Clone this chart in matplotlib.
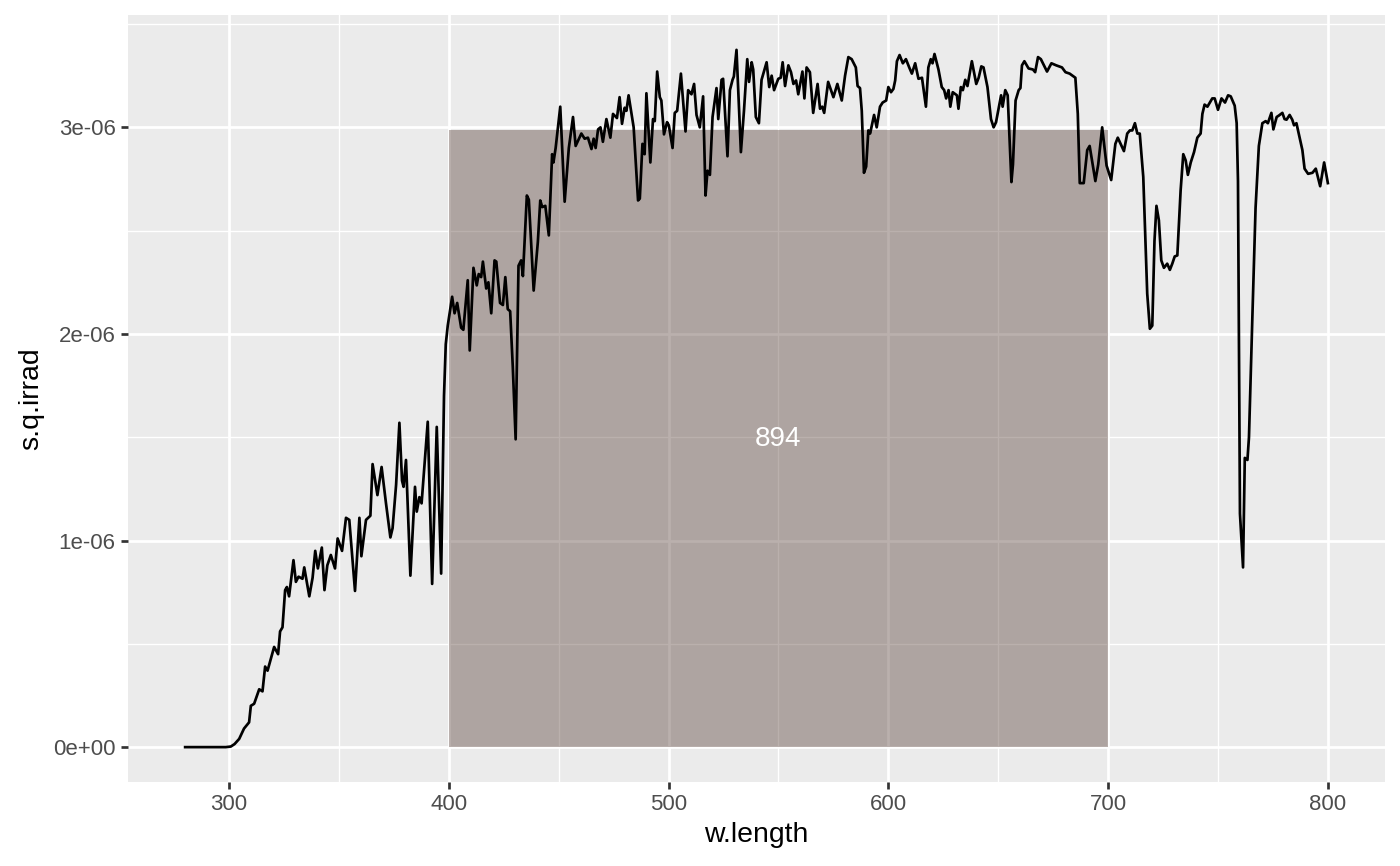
import matplotlib
matplotlib.use("Agg")
import matplotlib.pyplot as plt
from matplotlib.ticker import FixedLocator, FixedFormatter
import numpy as np

# ---- data (irradiance in units of 1e-6) ----
w_length = [
    280, 285, 290, 295, 298.5, 300.8, 302.5, 304.6, 306.8, 309.1, 309.9, 311.4, 313.7, 315.2,
    316.4, 317.5, 320.5, 322.3, 323.2, 324.3, 325.5, 326.3, 327.3, 329.3, 330.4, 331.6, 333.4,
    334.2, 336.5, 338.0, 339.2, 340.4, 342.2, 343.4, 344.7, 346.3, 348.2, 349.4, 351.4, 353.2,
    354.7, 357.3, 359.3, 360.2, 362.3, 364.3, 365.3, 367.5, 369.4, 371.4, 373.4, 374.4, 376.0,
    377.5, 378.7, 379.4, 380.5, 382.5, 384.6, 385.4, 386.6, 387.6, 390.4, 392.4, 394.5, 396.5,
    397.8, 398.6, 399.5, 401.5, 402.6, 403.8, 405.6, 406.6, 408.6, 409.5, 411.2, 412.7, 413.6,
    414.7, 415.5, 417.0, 418.0, 419.3, 420.8, 421.6, 423.3, 424.6, 425.7, 426.8, 427.9, 429.1,
    430.4, 431.7, 432.9, 433.7, 435.5, 436.4, 438.6, 440.5, 441.6, 442.5, 443.9, 445.5, 447.0,
    447.6, 448.6, 450.7, 452.7, 454.6, 456.5, 457.7, 460.3, 461.8, 463.3, 464.9, 465.9, 466.8,
    467.9, 469.0, 470.1, 471.7, 473.5, 474.7, 476.5, 477.7, 478.8, 480.0, 480.8, 481.8, 484.1,
    486.1, 486.9, 488.1, 489.1, 489.9, 491.7, 492.9, 493.7, 494.8, 496.0, 496.7, 497.9, 499.3,
    500.1, 501.8, 502.8, 503.9, 505.6, 507.7, 508.9, 510.4, 511.6, 512.7, 514.2, 515.7, 516.8,
    517.7, 518.8, 520.0, 521.8, 522.6, 524.1, 524.8, 526.8, 527.9, 529.1, 529.7, 530.9, 532.9,
    534.3, 535.8, 536.6, 537.8, 538.5, 539.7, 541.1, 542.3, 544.6, 545.8, 546.9, 548.0, 549.9,
    551.0, 551.9, 553.0, 554.5, 555.7, 556.8, 558.0, 559.0, 560.9, 561.8, 562.8, 564.3, 565.8,
    567.8, 568.9, 569.9, 570.8, 572.6, 575.0, 576.8, 578.8, 580.3, 581.8, 583.3, 585.2, 586.0,
    587.1, 587.9, 588.9, 589.9, 590.9, 591.7, 593.5, 594.7, 596.2, 597.4, 599.0, 600.0, 601.2,
    602.3, 603.1, 603.9, 605.1, 606.6, 608.0, 609.5, 610.7, 612.2, 613.7, 615.3, 617.1, 618.2,
    619.3, 620.1, 621.0, 622.8, 624.3, 625.4, 626.3, 627.4, 628.2, 629.3, 631.2, 631.9, 633.0,
    633.9, 635.0, 636.0, 638.0, 640.0, 641.1, 642.3, 643.3, 645.1, 646.7, 647.9, 649.0, 651.3,
    652.0, 653.2, 654.3, 656.0, 656.7, 657.9, 659.3, 660.1, 660.8, 661.9, 663.8, 665.8, 666.8,
    668.1, 669.4, 672.2, 674.2, 676.4, 679.0, 680.6, 682.5, 685.1, 686.2, 687.1, 688.9, 690.5,
    691.6, 694.2, 695.5, 697.3, 699.3, 701.4, 703.3, 704.4, 707.2, 708.7, 709.9, 711.0, 712.2,
    713.3, 714.4, 716.0, 717.8, 719.0, 720.1, 721.1, 722.0, 723.1, 724.2, 725.4, 726.9, 728.1,
    729.2, 730.3, 731.5, 733.0, 734.2, 735.3, 736.3, 737.6, 739.1, 740.6, 742.1, 742.9, 743.9,
    745.2, 747.4, 748.5, 750.0, 751.6, 753.2, 754.6, 755.8, 757.0, 757.6, 758.5, 759.1, 760.0,
    761.4, 762.2, 763.4, 764.1, 765.6, 767.1, 768.6, 770.2, 771.7, 772.7, 774.3, 775.2, 776.7,
    777.7, 779.3, 780.3, 781.2, 782.6, 783.8, 784.6, 785.7, 788.4, 789.4, 791.0, 793.0, 794.5,
    796.5, 798.3, 800.0,
]
s_q_irrad_e6 = [
    0.0, 0.0, 0.0, 0.0, 0.0, 0.003, 0.015, 0.04, 0.09, 0.12, 0.20, 0.21, 0.28, 0.27,
    0.39, 0.37, 0.485, 0.45, 0.56, 0.58, 0.76, 0.775, 0.73, 0.905, 0.80, 0.825, 0.815,
    0.87, 0.73, 0.82, 0.95, 0.865, 0.966, 0.76, 0.88, 0.93, 0.865, 1.01, 0.95, 1.11,
    1.10, 0.756, 1.11, 0.924, 1.10, 1.12, 1.37, 1.22, 1.356, 1.18, 1.015, 1.06, 1.27,
    1.57, 1.29, 1.26, 1.39, 0.83, 1.26, 1.14, 1.21, 1.18, 1.575, 0.79, 1.55, 0.84,
    1.70, 1.95, 2.04, 2.18, 2.10, 2.15, 2.03, 2.02, 2.26, 1.92, 2.32, 2.235, 2.29,
    2.275, 2.35, 2.22, 2.25, 2.10, 2.356, 2.35, 2.15, 2.14, 2.275, 2.12, 2.11, 1.84,
    1.49, 2.33, 2.356, 2.28, 2.67, 2.65, 2.21, 2.445, 2.646, 2.614, 2.62, 2.477, 2.87,
    2.83, 2.90, 3.10, 2.64, 2.90, 3.05, 2.91, 2.97, 2.945, 2.95, 2.895, 2.945, 2.90,
    2.99, 3.00, 2.93, 3.04, 2.95, 3.065, 3.045, 3.146, 3.017, 3.095, 3.08, 3.155, 3.00,
    2.646, 2.655, 2.92, 2.87, 3.165, 2.83, 3.04, 3.03, 3.27, 3.146, 3.13, 2.966, 3.025,
    3.01, 2.90, 3.07, 3.08, 3.26, 2.98, 3.18, 3.16, 3.21, 3.06, 3.00, 3.15, 2.67,
    2.79, 2.77, 3.05, 3.19, 3.04, 3.23, 3.235, 2.86, 3.18, 3.23, 3.246, 3.375, 2.88,
    3.08, 3.33, 3.22, 3.315, 3.28, 3.05, 3.02, 3.23, 3.315, 3.195, 3.25, 3.18, 3.235,
    3.24, 3.315, 3.20, 3.30, 3.267, 3.21, 3.227, 3.16, 3.27, 3.14, 3.29, 3.267, 3.07,
    3.21, 3.09, 3.10, 3.07, 3.22, 3.146, 3.21, 3.13, 3.25, 3.34, 3.33, 3.29, 3.20,
    3.19, 3.08, 2.78, 2.81, 2.985, 2.97, 3.06, 3.00, 3.10, 3.12, 3.13, 3.195, 3.17,
    3.186, 3.227, 3.32, 3.35, 3.31, 3.33, 3.29, 3.26, 3.31, 3.235, 3.24, 3.10, 3.29,
    3.33, 3.31, 3.355, 3.28, 3.195, 3.18, 3.14, 3.18, 3.10, 3.17, 3.155, 3.09, 3.195,
    3.18, 3.23, 3.20, 3.32, 3.21, 3.24, 3.295, 3.29, 3.195, 3.04, 3.00, 3.025, 3.155,
    3.10, 3.18, 3.155, 2.735, 2.82, 3.13, 3.18, 3.19, 3.30, 3.32, 3.285, 3.28, 3.267,
    3.34, 3.33, 3.27, 3.31, 3.30, 3.29, 3.267, 3.26, 3.24, 3.066, 2.73, 2.73, 2.89,
    2.91, 2.74, 2.82, 3.00, 2.815, 2.745, 2.92, 2.95, 2.885, 2.97, 2.985, 2.985, 3.02,
    2.97, 2.97, 2.76, 2.195, 2.025, 2.04, 2.45, 2.62, 2.55, 2.356, 2.32, 2.34, 2.31,
    2.34, 2.375, 2.38, 2.695, 2.87, 2.84, 2.77, 2.83, 2.88, 2.95, 2.97, 3.065, 3.11,
    3.10, 3.14, 3.14, 3.085, 3.14, 3.12, 3.155, 3.15, 3.12, 3.105, 3.02, 2.74, 1.13,
    0.87, 1.40, 1.39, 1.50, 2.065, 2.61, 2.91, 3.02, 3.03, 3.02, 3.07, 2.99, 3.05,
    3.057, 3.07, 3.04, 3.037, 3.06, 3.037, 3.01, 3.02, 2.89, 2.80, 2.775, 2.78, 2.80,
    2.715, 2.83, 2.73,
]
s_q_irrad = np.array(s_q_irrad_e6) * 1e-6

# summary band (PAR 400-700 nm) and its label
band_range = [400, 700]
band_mean = 2.985e-6
band_label = "894"

x_major = [300, 400, 500, 600, 700, 800]
x_minor = [350, 450, 550, 650, 750]
y_major = [0, 1e-6, 2e-6, 3e-6]
y_major_labels = ["0e+00", "1e-06", "2e-06", "3e-06"]
y_minor = [0.5e-6, 1.5e-6, 2.5e-6, 3.5e-6]

# ---- figure ----
plt.rcParams['font.family'] = ['Liberation Sans', 'DejaVu Sans']
W, H = 1400, 866
fig = plt.figure(figsize=(W / 100, H / 100), dpi=100)
ax = fig.add_axes([128 / W, 1 - 782 / H, (1385 - 128) / W, (782 - 15) / H])
ax.set_facecolor('#EBEBEB')
for s in ax.spines.values():
    s.set_visible(False)

xmin, xmax = min(w_length), max(w_length)
xr = xmax - xmin
ax.set_xlim(xmin - 0.05 * xr, xmax + 0.05 * xr)
ymax = float(np.max(s_q_irrad))
ax.set_ylim(-0.05 * ymax, ymax * 1.05)

# grid
for v in x_minor:
    ax.axvline(v, color='white', lw=0.97, zorder=0.5)
for v in y_minor:
    ax.axhline(v, color='white', lw=0.97, zorder=0.5)
for v in x_major:
    ax.axvline(v, color='white', lw=1.95, zorder=0.6)
for v in y_major:
    ax.axhline(v, color='white', lw=1.95, zorder=0.6)

# band
ax.fill_between(band_range, [0, 0], [band_mean, band_mean],
                color=(83 / 255, 58 / 255, 50 / 255), alpha=0.4, lw=0, zorder=1)
ax.text(sum(band_range) / 2, band_mean / 2, band_label, color='white',
        fontsize=20, ha='center', va='center', zorder=3)

# spectrum
ax.plot(w_length, s_q_irrad, color='black', lw=1.95, zorder=2,
        solid_joinstyle='round')

ax.xaxis.set_major_locator(FixedLocator(x_major))
ax.yaxis.set_major_locator(FixedLocator(y_major))
ax.yaxis.set_major_formatter(FixedFormatter(y_major_labels))
ax.tick_params(axis='both', which='major', length=5, width=1.95, color='#333333',
               labelsize=16, labelcolor='#4D4D4D', pad=4)
ax.tick_params(which='minor', length=0)

ax.set_xlabel('w.length', fontsize=20.4, color='black', labelpad=5)
ax.set_ylabel('s.q.irrad', fontsize=20.4, color='black', labelpad=6)

fig.savefig('out.png', dpi=100)
